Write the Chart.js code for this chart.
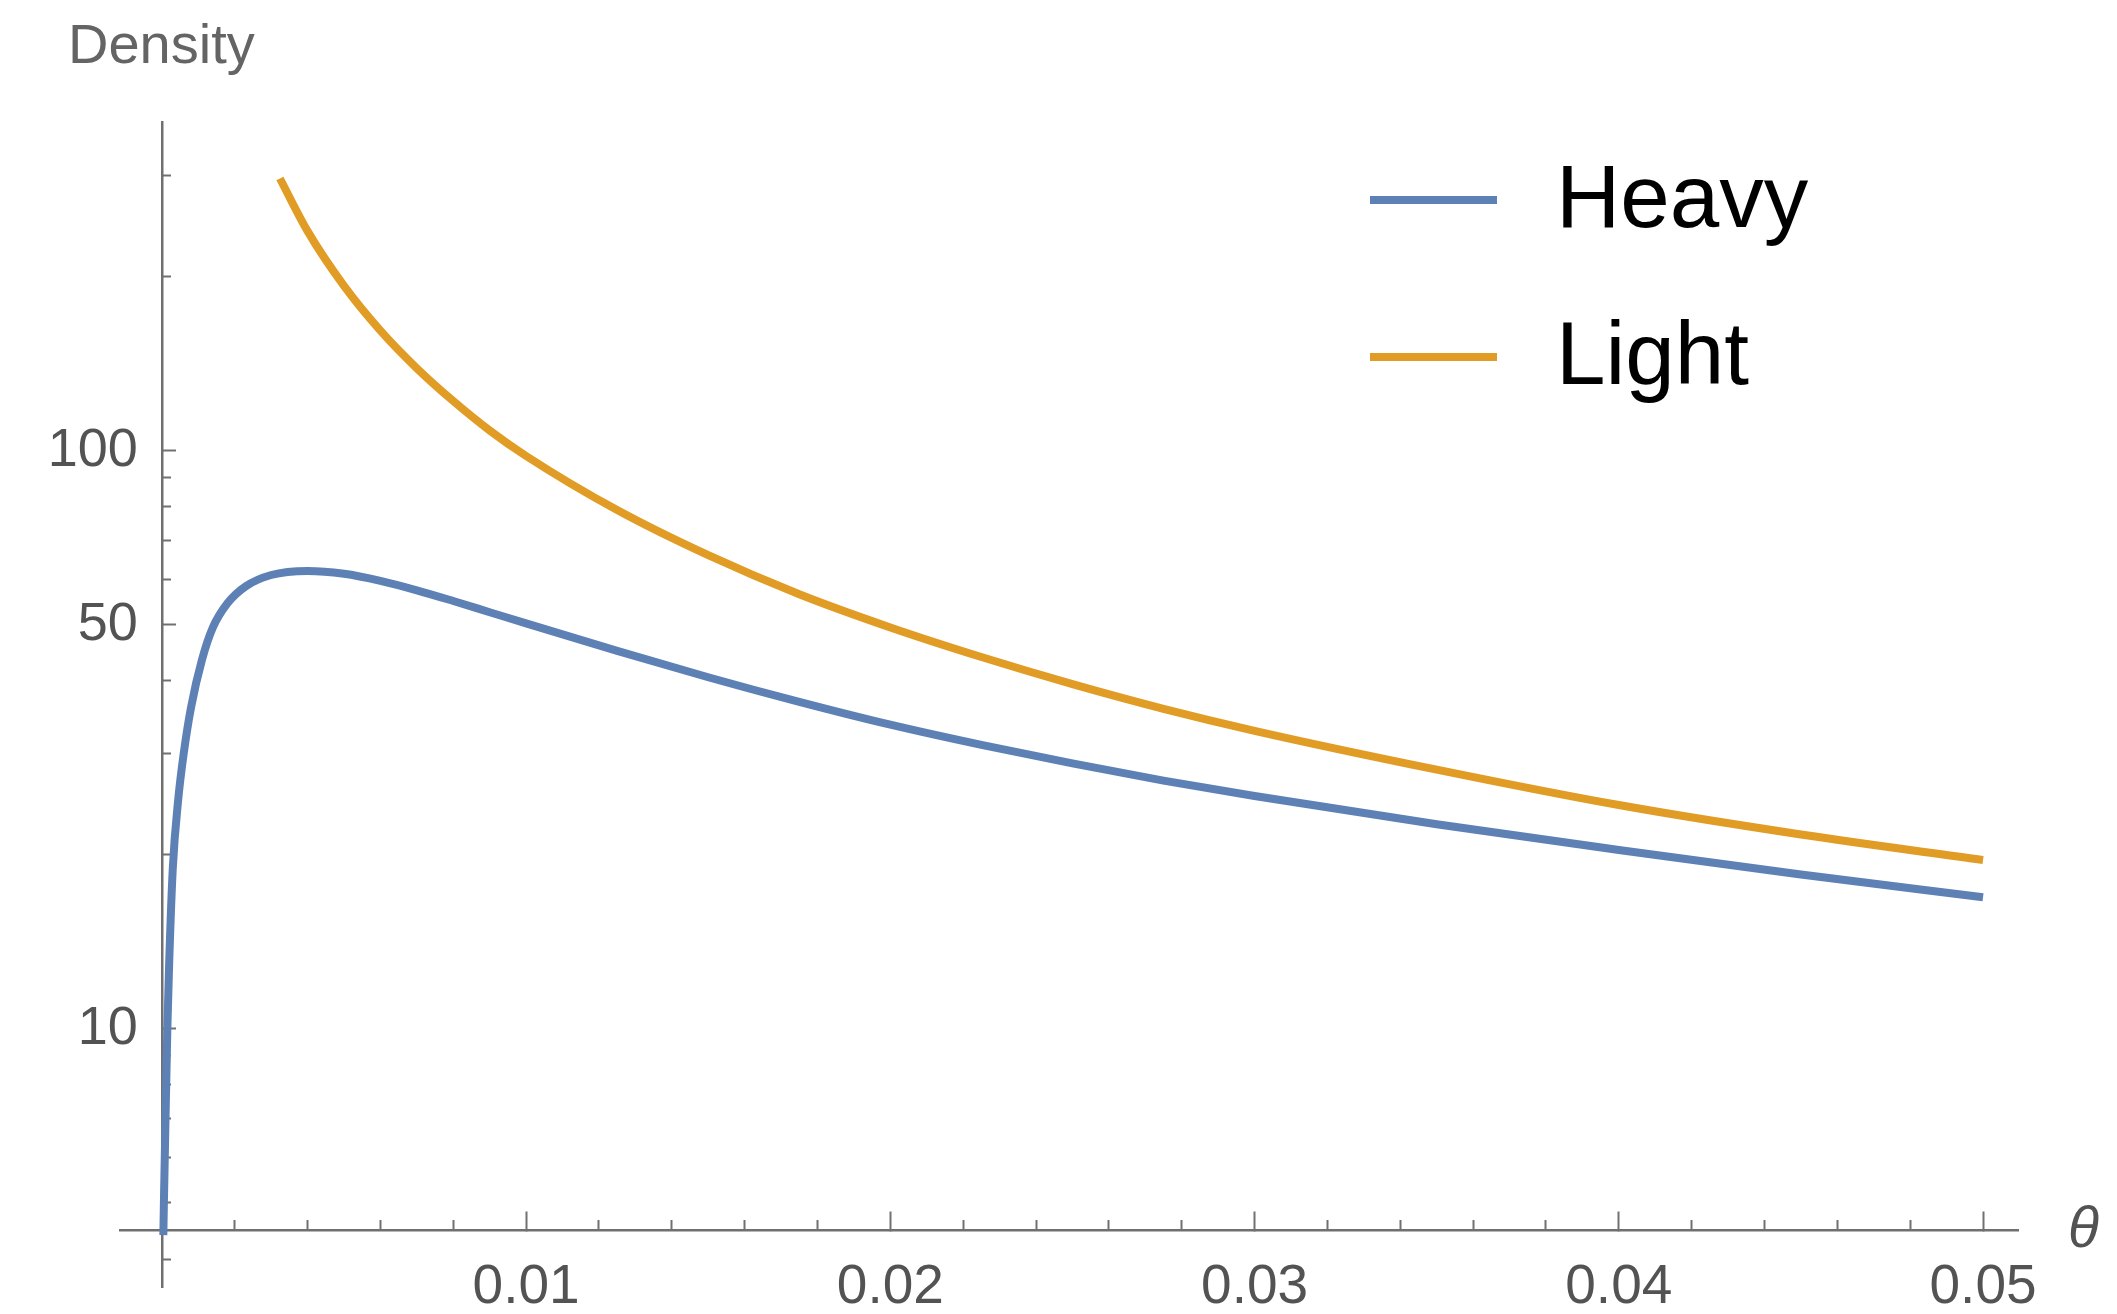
<!DOCTYPE html>
<html>
<head>
<meta charset="utf-8">
<title>Density</title>
<script src="https://cdn.jsdelivr.net/npm/chart.js@4.4.1/dist/chart.umd.min.js"></script>
<style>
    html, body { margin: 0; padding: 0; background: #ffffff; }
    #wrap { width: 2117px; height: 1314px; }
</style>
</head>
<body>
<div id="wrap"><canvas id="density" width="2117" height="1314"></canvas></div>
<script>
/*--------------------DATA--------------------*/
const seriesNames = ['Heavy', 'Light'];

const heavyTheta = [0.00004, 0.00006, 0.0001, 0.00015, 0.0002, 0.0003, 0.00045, 0.0006, 0.0008, 0.0011,
    0.0014, 0.0018, 0.0023, 0.003, 0.004, 0.005, 0.006, 0.007, 0.008, 0.009, 0.01, 0.0125, 0.015,
    0.0175, 0.02, 0.0225, 0.025, 0.0275, 0.03, 0.035, 0.04, 0.045, 0.05];
const heavyDensity = [4.4, 5.2, 7, 10, 13, 19, 25, 30, 36, 43.5,
    49.5, 54.5, 58.3, 61, 62, 61.3, 59.6, 57.4, 55, 52.6, 50.3, 45.1, 40.6,
    36.8, 33.6, 31, 28.8, 26.9, 25.3, 22.6, 20.4, 18.5, 16.9];

const lightTheta = [0.00324, 0.004, 0.005, 0.006, 0.007, 0.008, 0.009, 0.01, 0.0125, 0.015, 0.0175,
    0.02, 0.0225, 0.025, 0.0275, 0.03, 0.035, 0.04, 0.045, 0.05];
const lightDensity = [296, 240, 193, 161.5, 139, 122, 108.5, 98, 79, 66, 56.5,
    49.5, 44, 39.5, 35.8, 32.8, 28.1, 24.4, 21.7, 19.6];

const xMajorTicks = [0.01, 0.02, 0.03, 0.04, 0.05];
const xMinorTicks = [0.002, 0.004, 0.006, 0.008, 0.012, 0.014, 0.016, 0.018, 0.022, 0.024,
    0.026, 0.028, 0.032, 0.034, 0.036, 0.038, 0.042, 0.044, 0.046, 0.048];
const yMajorTicks = [10, 50, 100];
const yMinorTicks = [4, 5, 6, 7, 8, 9, 20, 30, 40, 60, 70, 80, 90, 200, 300];

/*--------------------STYLE--------------------*/
const FONT = '"Liberation Sans", Arial, Helvetica, sans-serif';
const AXIS_GRAY = '#707070';
const LABEL_GRAY = '#535353';
const HEAVY_COLOR = 'rgb(94,129,181)';
const LIGHT_COLOR = 'rgb(224,156,36)';

// plot range and where the axes cross (Mathematica style)
const X_MIN = -0.00115;
const X_MAX = 0.05096;
const Y_MIN = 3.578;
const Y_MAX = 370.7;
const X_AXIS_AT = 4.489;
const Y_LABEL_AT = -0.00066;

/*--------------------METHOD--------------------*/
function toPoints(xs, ys) {
    return xs.map((x, i) => ({ x: x, y: ys[i] }));
}

function useTicks(values) {
    return (scale) => { scale.ticks = values.map((v) => ({ value: v })); };
}

// axes sit inside the plot, so they must not eat layout space
function noSpace(scale) {
    if (scale.isHorizontal()) scale.height = 0;
    else scale.width = 0;
    scale.paddingLeft = 0;
    scale.paddingRight = 0;
    scale.paddingTop = 0;
    scale.paddingBottom = 0;
}

let extraText = {
    id: 'extraText',
    afterDraw(chart) {
        let ctx = chart.ctx;
        ctx.save();
        ctx.textBaseline = 'alphabetic';
        ctx.textAlign = 'left';

        ctx.fillStyle = '#646464';
        ctx.font = `56px ${FONT}`;
        ctx.fillText('Density', 68, 63);

        ctx.fillStyle = LABEL_GRAY;
        ctx.font = `italic 57px ${FONT}`;
        ctx.fillText('θ', 2068, 1247);

        chart.data.datasets.forEach((ds, i) => {
            let y = 200 + i * 157;
            ctx.strokeStyle = ds.borderColor;
            ctx.lineWidth = 8;
            ctx.beginPath();
            ctx.moveTo(1370, y);
            ctx.lineTo(1497, y);
            ctx.stroke();
            ctx.fillStyle = '#000000';
            ctx.font = `89px ${FONT}`;
            ctx.fillText(ds.label, 1556, y + 27);
        });
        ctx.restore();
    }
};

/*--------------------CHART--------------------*/
let densityCanvas = document.getElementById('density');
let densityChart = new Chart(densityCanvas, {
    type: 'line',
    data: {
        datasets: [
            {
                label: seriesNames[0],
                data: toPoints(heavyTheta, heavyDensity),
                borderColor: HEAVY_COLOR,
                borderWidth: 8,
                pointRadius: 0,
                cubicInterpolationMode: 'monotone',
                fill: false
            },
            {
                label: seriesNames[1],
                data: toPoints(lightTheta, lightDensity),
                borderColor: LIGHT_COLOR,
                borderWidth: 8,
                pointRadius: 0,
                cubicInterpolationMode: 'monotone',
                fill: false
            }
        ]
    },
    options: {
        responsive: false,
        animation: false,
        devicePixelRatio: 1,
        layout: { padding: { left: 120, right: 99, top: 122, bottom: 27 } },
        plugins: {
            legend: { display: false },
            tooltip: { enabled: false }
        },
        scales: {
            x: {
                type: 'linear', axis: 'x', min: X_MIN, max: X_MAX,
                position: { y: X_AXIS_AT },
                afterBuildTicks: useTicks(xMajorTicks),
                afterFit: noSpace,
                grid: { drawOnChartArea: false, drawTicks: true, tickLength: -20, tickWidth: 2, tickColor: AXIS_GRAY },
                border: { display: true, color: AXIS_GRAY, width: 2.5 },
                ticks: {
                    color: LABEL_GRAY, padding: 50, maxRotation: 0, autoSkip: false,
                    font: { family: FONT, size: 55, lineHeight: 1 },
                    callback: (v) => v.toFixed(2)
                }
            },
            xMinor: {
                type: 'linear', axis: 'x', min: X_MIN, max: X_MAX,
                position: { y: X_AXIS_AT },
                afterBuildTicks: useTicks(xMinorTicks),
                afterFit: noSpace,
                grid: { drawOnChartArea: false, drawTicks: true, tickLength: -10, tickWidth: 2, tickColor: AXIS_GRAY },
                border: { display: false },
                ticks: { display: false }
            },
            y: {
                type: 'logarithmic', axis: 'y', min: Y_MIN, max: Y_MAX,
                position: { x: 0 },
                afterBuildTicks: useTicks(yMajorTicks),
                afterFit: noSpace,
                grid: { drawOnChartArea: false, drawTicks: true, tickLength: -15, tickWidth: 2, tickColor: AXIS_GRAY },
                border: { display: true, color: AXIS_GRAY, width: 2.5 },
                ticks: { display: false }
            },
            yMinor: {
                type: 'logarithmic', axis: 'y', min: Y_MIN, max: Y_MAX,
                position: { x: 0 },
                afterBuildTicks: useTicks(yMinorTicks),
                afterFit: noSpace,
                grid: { drawOnChartArea: false, drawTicks: true, tickLength: -9, tickWidth: 2, tickColor: AXIS_GRAY },
                border: { display: false },
                ticks: { display: false }
            },
            // labels of the y axis, set a little left of the axis line
            yLabels: {
                type: 'logarithmic', axis: 'y', min: Y_MIN, max: Y_MAX,
                position: { x: Y_LABEL_AT },
                afterBuildTicks: useTicks(yMajorTicks),
                afterFit: noSpace,
                grid: { display: false },
                border: { display: false },
                ticks: {
                    color: LABEL_GRAY, autoSkip: false,
                    font: { family: FONT, size: 54, lineHeight: 1 },
                    callback: (v) => String(v)
                }
            }
        }
    },
    plugins: [extraText]
});
</script>
</body>
</html>
